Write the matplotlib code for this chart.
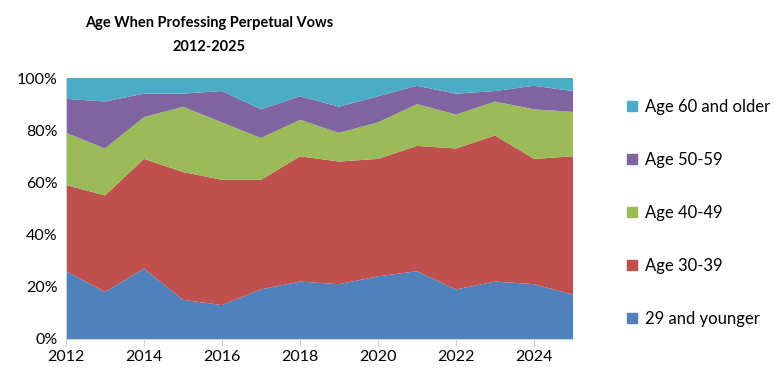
import matplotlib.pyplot as plt
from matplotlib.patches import Patch
from matplotlib.ticker import FuncFormatter

plt.rcParams["font.family"] = ["Lato", "DejaVu Sans"]

years = list(range(2012, 2026))
age_29_under = [26, 18, 27, 15, 13, 19, 22, 21, 24, 26, 19, 22, 21, 17]
age_30_39 = [33, 37, 42, 49, 48, 42, 48, 47, 45, 48, 54, 56, 48, 53]
age_40_49 = [20, 18, 16, 25, 22, 16, 14, 11, 14, 16, 13, 13, 19, 17]
age_50_59 = [13, 18, 9, 5, 12, 11, 9, 10, 10, 7, 8, 4, 9, 8]
age_60_up = [8, 9, 6, 6, 5, 12, 7, 11, 7, 3, 6, 5, 3, 5]

labels = ["29 and younger", "Age 30-39", "Age 40-49", "Age 50-59", "Age 60 and older"]
colors = ["#4F81BD", "#C0504D", "#9BBB59", "#8064A2", "#4BACC6"]

series = [age_29_under, age_30_39, age_40_49, age_50_59, age_60_up]
totals = [sum(v) for v in zip(*series)]
shares = [[x / t for x, t in zip(s, totals)] for s in series]

fig = plt.figure(figsize=(7.74, 3.81), dpi=100)
ax = fig.add_axes([66 / 774, 1 - 339 / 381, (573 - 66) / 774, (339 - 78) / 381])

ax.stackplot(years, *shares, colors=colors, labels=labels, linewidth=0)

ax.set_xlim(2012, 2025)
ax.set_ylim(0, 1)
ax.set_xticks(range(2012, 2026, 2))
ax.set_yticks([0, 0.2, 0.4, 0.6, 0.8, 1.0])
ax.yaxis.set_major_formatter(FuncFormatter(lambda v, p: "{:.0f}%".format(v * 100)))
ax.tick_params(axis="y", length=0, labelsize=11.5, pad=6)
ax.tick_params(axis="x", length=5, color="#d0d0d0", labelsize=11.5, pad=3)
for side in ["top", "right"]:
    ax.spines[side].set_visible(False)
for side in ["left", "bottom"]:
    ax.spines[side].set_color("#d0d0d0")

fig.text(209 / 774, 1 - 35 / 381, "Age When Professing Perpetual Vows\n2012-2025",
         ha="center", va="center", fontsize=10.5, fontweight="bold",
         linespacing=1.85)

handles = [Patch(color=c, label=l) for c, l in zip(colors, labels)][::-1]
fig.legend(handles=handles, loc="upper left", bbox_to_anchor=(612 / 774, 1 - 84 / 381),
           frameon=False, fontsize=12, labelspacing=2.22,
           handlelength=0.6, handleheight=0.6, handletextpad=0.5)

fig.savefig("out.png", dpi=100)
